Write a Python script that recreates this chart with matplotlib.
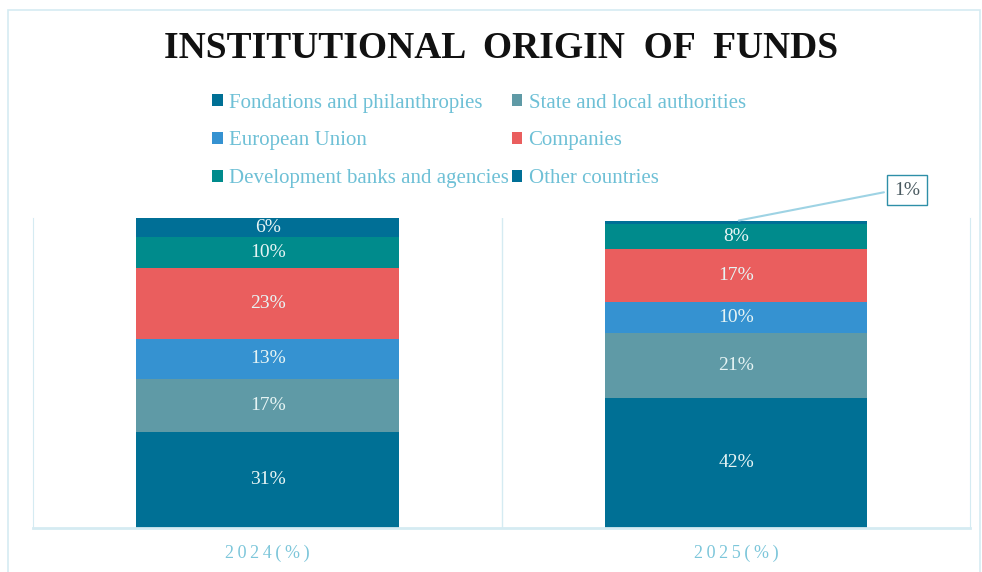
import matplotlib.pyplot as plt
from matplotlib.patches import Rectangle

years = ['2024(%)', '2025(%)']
series = ['Fondations and philanthropies', 'State and local authorities', 'European Union',
          'Companies', 'Development banks and agencies', 'Other countries']
values = {
    'Fondations and philanthropies': [31, 42],
    'State and local authorities': [17, 21],
    'European Union': [13, 10],
    'Companies': [23, 17],
    'Development banks and agencies': [10, 8],
    'Other countries': [6, 1],
}
colors = ['#007095', '#5F9AA6', '#3592D1', '#EA5E5E', '#008B8C', '#006F96']

plt.rcParams['font.family'] = ['Liberation Serif', 'DejaVu Serif']

fig = plt.figure(figsize=(9.82, 5.72), dpi=100)
ax = fig.add_axes([0.034, 0.077, 0.954, 0.542])

x = [0, 1]
bottoms = [0, 0]
bars = {}
for name, col in zip(series, colors):
    vals = values[name]
    bars[name] = ax.bar(x, vals, bottom=bottoms, width=0.56, color=col, label=name)
    for i, v in enumerate(vals):
        if v >= 5:
            ax.text(x[i], bottoms[i] + v / 2, f'{v}%', ha='center', va='center',
                    color='#E6F4F4', fontsize=14)
    bottoms = [b + v for b, v in zip(bottoms, vals)]

# callout for the small 1% segment
ax.annotate(f"{values['Other countries'][1]}%", xy=(1, bottoms[1]), xytext=(1.365, 109),
            ha='center', va='center', fontsize=14, color='#4A5A60',
            bbox=dict(boxstyle='square,pad=0.35', fc='white', ec='#2E8FA8', lw=1),
            arrowprops=dict(arrowstyle='-', color='#9ED3E4', lw=1.5,
                            connectionstyle='angle,angleA=0,angleB=11,rad=0'),
            annotation_clip=False)

ax.set_xlim(-0.5, 1.5)
ax.set_ylim(0, 100)
ax.set_yticks([])
ax.set_xticks(x)
ax.set_xticklabels(['\u2009'.join(y) for y in years], color='#7CC6DA', fontsize=13)
ax.tick_params(axis='x', length=0, pad=12)
ax.axvline(0.5, color='#D5EBF2', lw=1, zorder=0)
for s in ['left', 'right', 'bottom']:
    ax.spines[s].set_color('#D5EBF2')
ax.spines['bottom'].set_linewidth(2)
ax.spines['top'].set_visible(False)

handles = [bars[n] for n in series]
order = [0, 2, 4, 1, 3, 5]
leg = fig.legend([handles[i] for i in order], [series[i] for i in order], ncol=2,
                 loc='upper left', bbox_to_anchor=(0.197, 0.869), frameon=False,
                 fontsize=15, handlelength=0.5, handleheight=0.5, handletextpad=0.3,
                 columnspacing=0.15, labelspacing=0.9, labelcolor='#6EC0D6')

fig.text(0.51, 0.915, 'INSTITUTIONAL  ORIGIN  OF  FUNDS',
         ha='center', va='center', fontsize=27, fontweight='bold', color='#111111')

fig.patches.append(Rectangle((0.008, -0.02), 0.99, 1.003, transform=fig.transFigure,
                             fill=False, ec='#D5EBF2', lw=1.2))

fig.savefig('out.png', dpi=100)
